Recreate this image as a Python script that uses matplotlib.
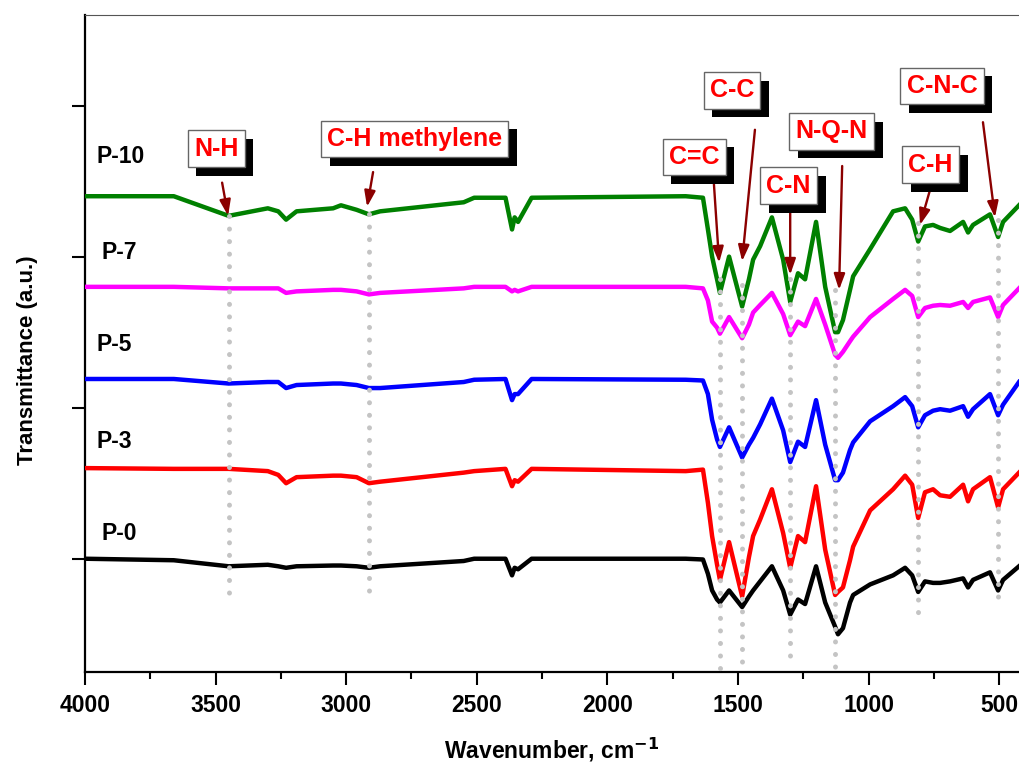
import matplotlib
matplotlib.use('Agg')
import matplotlib.pyplot as plt
import matplotlib.patheffects as pe

plt.rcParams['font.family'] = ['Liberation Sans', 'DejaVu Sans']
plt.rcParams['font.weight'] = 'bold'

# wavenumber grid (cm-1)
wavenumber = [4000, 3660, 3450, 3300, 3260, 3230, 3190, 3050, 3020, 2960, 2913, 2870,
              2550, 2510, 2390, 2365, 2355, 2342, 2290, 1700, 1634, 1615, 1599, 1580,
              1569, 1534, 1484, 1458, 1442, 1415, 1370, 1327, 1300, 1270, 1243, 1201,
              1166, 1128, 1117, 1098, 1071, 1059, 994, 906, 860, 833, 810, 784, 753,
              726, 688, 638, 619, 600, 535, 504, 485, 424]

# stacked spectra (already offset)
p0 = [0.00, -0.01, -0.05, -0.04, -0.05, -0.06, -0.05, -0.045, -0.045, -0.05, -0.06, -0.05,
      -0.015, 0.0, 0.0, -0.11, -0.06, -0.07, 0.0, 0.0, -0.005, -0.10, -0.21, -0.27,
      -0.29, -0.21, -0.32, -0.25, -0.21, -0.15, -0.05, -0.21, -0.37, -0.27, -0.30, -0.05,
      -0.29, -0.45, -0.50, -0.46, -0.29, -0.24, -0.17, -0.11, -0.06, -0.11, -0.22, -0.15, -0.16,
      -0.16, -0.15, -0.13, -0.19, -0.14, -0.09, -0.21, -0.14, -0.05]
p3 = [0.60, 0.595, 0.595, 0.58, 0.555, 0.50, 0.54, 0.55, 0.55, 0.54, 0.50, 0.51,
      0.57, 0.58, 0.595, 0.48, 0.52, 0.51, 0.595, 0.58, 0.59, 0.37, 0.15, -0.04,
      -0.14, 0.11, -0.25, 0.01, 0.15, 0.26, 0.46, 0.17, -0.06, 0.15, 0.11, 0.48,
      0.06, -0.24, -0.22, -0.19, -0.01, 0.08, 0.32, 0.46, 0.55, 0.49, 0.27, 0.44, 0.46,
      0.42, 0.41, 0.49, 0.38, 0.46, 0.54, 0.34, 0.46, 0.57]
p5 = [1.19, 1.19, 1.16, 1.17, 1.17, 1.13, 1.15, 1.16, 1.16, 1.15, 1.13, 1.13,
      1.17, 1.185, 1.19, 1.05, 1.09, 1.09, 1.19, 1.185, 1.18, 1.09, 0.92, 0.79,
      0.74, 0.87, 0.67, 0.755, 0.80, 0.89, 1.06, 0.85, 0.64, 0.775, 0.74, 1.05,
      0.755, 0.52, 0.52, 0.57, 0.72, 0.77, 0.91, 1.01, 1.07, 1.01, 0.87, 0.95, 0.98,
      0.99, 0.98, 1.01, 0.94, 0.99, 1.09, 0.95, 1.02, 1.17]
p7 = [1.80, 1.80, 1.79, 1.79, 1.79, 1.76, 1.77, 1.78, 1.78, 1.77, 1.75, 1.76,
      1.79, 1.80, 1.80, 1.77, 1.78, 1.77, 1.80, 1.80, 1.79, 1.71, 1.57, 1.53,
      1.49, 1.60, 1.46, 1.55, 1.63, 1.68, 1.76, 1.62, 1.48, 1.57, 1.54, 1.72,
      1.55, 1.35, 1.33, 1.37, 1.44, 1.47, 1.60, 1.72, 1.78, 1.74, 1.60, 1.66, 1.675,
      1.68, 1.675, 1.70, 1.66, 1.70, 1.73, 1.60, 1.68, 1.79]
p10 = [2.40, 2.40, 2.27, 2.32, 2.30, 2.245, 2.30, 2.32, 2.34, 2.31, 2.28, 2.30,
       2.36, 2.39, 2.39, 2.18, 2.26, 2.23, 2.39, 2.40, 2.39, 2.18, 2.00, 1.85,
       1.76, 2.00, 1.67, 1.85, 1.98, 2.07, 2.26, 1.98, 1.70, 1.89, 1.85, 2.23,
       1.80, 1.50, 1.50, 1.58, 1.78, 1.87, 2.05, 2.30, 2.32, 2.245, 2.10, 2.20, 2.21,
       2.19, 2.17, 2.23, 2.16, 2.21, 2.28, 2.13, 2.23, 2.34]

series = [p0, p3, p5, p7, p10]
names = ['P-0', 'P-3', 'P-5', 'P-7', 'P-10']
colors = ['black', '#ff0000', '#0000ff', '#ff00ff', '#008000']

# band assignments
bands = ['N-H', 'C-H methylene', 'C=C', 'C-C', 'C-N', 'N-Q-N', 'C-H', 'C-N-C']
band_wn = [3450, 2913, 1569, 1484, 1300, 1128, 810, 504]

fig = plt.figure(figsize=(10.19, 7.64), dpi=100)
ax = fig.add_axes([0.0834, 0.1204, 0.9166, 0.86])

for y, c in zip(series, colors):
    ax.plot(wavenumber, y, color=c, lw=3.2, solid_joinstyle='round', zorder=3)

# sample labels
label_pos = [(3935, 0.17), (3954, 0.775), (3954, 1.42), (3935, 2.03), (3954, 2.66)]
for n, (lx, ly) in zip(names, label_pos):
    ax.text(lx, ly, n, fontsize=16.5, fontweight='bold', ha='left', va='center', zorder=5)

# dotted guide lines
guide_span = [(2.27, -0.24), (2.28, -0.22), (1.85, -0.735), (1.81, -0.755),
              (1.85, -0.67), (1.78, -0.715), (2.22, -0.36), (2.245, -0.325)]
for w, (top, bot) in zip(band_wn, guide_span):
    ax.plot([w, w], [top, bot], color='#c4c4c4', lw=3.6, linestyle=(0, (0.01, 2.5)),
            dash_capstyle='round', zorder=4)

# boxes and arrows
box_pos = [(3498, 2.715), (2738, 2.78), (1668, 2.66), (1523, 3.10),
           (1306, 2.47), (1142, 2.83), (763, 2.61), (719, 3.13)]
arrow_from = [(3475, 2.49), (2897, 2.56), (1592, 2.48), (1435, 2.84),
              (1300, 2.31), (1101, 2.60), (765, 2.44), (562, 2.89)]
arrow_to = [(3452, 2.27), (2920, 2.33), (1572, 1.96), (1484, 1.97),
            (1300, 1.88), (1113, 1.78), (803, 2.21), (516, 2.26)]

for txt, (bx, by), a0, a1 in zip(bands, box_pos, arrow_from, arrow_to):
    t = ax.text(bx, by, txt, fontsize=18, fontweight='bold', color='#ff0000',
                ha='center', va='center', zorder=7,
                bbox=dict(boxstyle='square,pad=0.25', fc='white', ec='#666666', lw=1))
    t.get_bbox_patch().set_path_effects([
        pe.SimplePatchShadow(offset=(6.3, -6.3), shadow_rgbFace='black', alpha=1.0),
        pe.Normal()])
    ax.annotate('', xy=a1, xytext=a0, zorder=6,
                arrowprops=dict(arrowstyle='-|>,head_length=0.95,head_width=0.33',
                                color='#8b0000', lw=1.7, shrinkA=0, shrinkB=0))

ax.set_xlim(4000, 424)
ax.set_ylim(-0.75, 3.60)
ax.set_xticks([4000, 3500, 3000, 2500, 2000, 1500, 1000, 500])
ax.set_xticks(range(3750, 400, -500), minor=True)
ax.set_yticks([0, 1, 2, 3])
ax.set_yticklabels([])
ax.tick_params(axis='both', which='major', direction='out', length=9.5, width=1.5,
               labelsize=16.5, pad=6)
ax.tick_params(axis='x', which='minor', direction='out', length=5, width=1.5)
for lab in ax.get_xticklabels():
    lab.set_fontweight('bold')

ax.spines['left'].set_linewidth(1.6)
ax.spines['bottom'].set_linewidth(1.6)
ax.spines['top'].set_linewidth(0.8)
ax.spines['top'].set_color('#555555')
ax.spines['right'].set_visible(False)

ax.set_xlabel('Wavenumber, cm$^{\\mathbf{-1}}$', fontsize=16.5, fontweight='bold', labelpad=14)
ax.set_ylabel('Transmittance (a.u.)', fontsize=16, fontweight='bold')
ax.yaxis.set_label_coords(-0.05, 0.475)

fig.savefig('out.png', dpi=100)
